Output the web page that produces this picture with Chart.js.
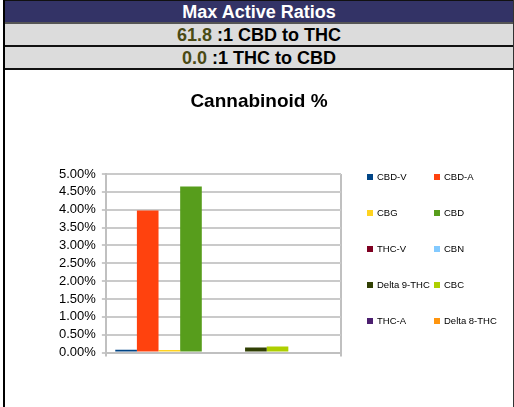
<!DOCTYPE html>
<html>
<head>
<meta charset="utf-8">
<script src="https://cdn.jsdelivr.net/npm/chart.js@4.4.1/dist/chart.umd.min.js"></script>
<style>
  html, body { margin: 0; padding: 0; background: #fff; }
  body { width: 514px; height: 407px; overflow: hidden; position: relative; font-family: "Liberation Sans", Arial, sans-serif; }
  .frame { position: absolute; left: 3px; top: 0; width: 508px; height: 420px; border-left: 2px solid #000; border-right: 2px solid #333; }
  .row { height: 22px; line-height: 22px; text-align: center; font-weight: bold; font-size: 18px; border-bottom: 2px solid #111; }
  .head { background: #333366; color: #fff; border-top: 1px solid #111; height: 21px; line-height: 22px; border-bottom-color: #555; }
  .sub { background: #dcdcdc; color: #000; height: 21px; }
  .num { color: #4a4a14; }
  #title { position: absolute; left: 5px; width: 508px; top: 89px; text-align: center; font-weight: bold; font-size: 19px; line-height: 24px; color: #000; }
  #wrap { position: absolute; left: 5px; top: 69px; width: 508px; height: 338px; }
</style>
</head>
<body>
<div class="frame">
  <div class="row head">Max Active Ratios</div>
  <div class="row sub"><span class="num" id="r1"></span> :1 CBD to THC</div>
  <div class="row sub"><span class="num" id="r2"></span> :1 THC to CBD</div>
</div>
<div id="wrap"><canvas id="myChart" width="508" height="338"></canvas></div>
<div id="title">Cannabinoid %</div>
<script>
const ratioCbdToThc = "61.8";
const ratioThcToCbd = "0.0";
const categories = [''];
const compounds = ['CBD-V', 'CBD-A', 'CBG', 'CBD', 'THC-V', 'CBN', 'Delta 9-THC', 'CBC', 'THC-A', 'Delta 8-THC'];
const percents = [0.08, 3.98, 0.07, 4.65, 0, 0, 0.14, 0.17, 0, 0];
const colours = ['#004586', '#ff420e', '#ffd320', '#579d1c', '#7e0021', '#83caff', '#314004', '#aecf00', '#4b1f6f', '#ff950e'];

document.getElementById('r1').textContent = ratioCbdToThc;
document.getElementById('r2').textContent = ratioThcToCbd;

// legend in two columns, row by row, to the right of the plot
const sideLegend = {
    id: 'sideLegend',
    afterDraw(chart) {
        const ctx = chart.ctx;
        const left = chart.chartArea.right + 26;
        ctx.save();
        ctx.font = '9.5px "Liberation Sans", Arial, sans-serif';
        ctx.textBaseline = 'middle';
        chart.data.datasets.forEach((ds, i) => {
            const x = left + (i % 2) * 67;
            const y = 108 + Math.floor(i / 2) * 36;
            ctx.fillStyle = ds.backgroundColor;
            ctx.fillRect(x, y - 3, 6, 6);
            ctx.fillStyle = '#000';
            ctx.fillText(ds.label, x + 10, y);
        });
        ctx.restore();
    }
};

const ctx = document.getElementById('myChart').getContext('2d');
const myChart = new Chart(ctx, {
    type: 'bar',
    data: {
        labels: categories,
        datasets: compounds.map((name, i) => ({
            label: name,
            data: [percents[i]],
            backgroundColor: colours[i],
            borderWidth: 0,
            categoryPercentage: 0.92,
            barPercentage: 1.0
        }))
    },
    options: {
        responsive: false,
        animation: false,
        layout: { padding: { left: 48, right: 172, top: 105, bottom: 30 } },
        plugins: {
            legend: { display: false },
            tooltip: { enabled: false },
            title: { display: false }
        },
        scales: {
            x: {
                grid: { color: '#c0c0c0', lineWidth: 2, tickLength: 4 },
                border: { color: '#c0c0c0', width: 2 },
                ticks: { display: true, font: { size: 12 } }
            },
            y: {
                min: 0,
                max: 5,
                ticks: {
                    stepSize: 0.5,
                    autoSkip: false,
                    color: '#000',
                    padding: 6,
                    font: { family: '"Liberation Sans", Arial, sans-serif', size: 13 },
                    callback: v => v.toFixed(2) + '%'
                },
                grid: { color: '#cacaca', lineWidth: 2, tickLength: 4 },
                border: { color: '#c0c0c0', width: 2 }
            }
        }
    },
    plugins: [sideLegend]
});
</script>
</body>
</html>
